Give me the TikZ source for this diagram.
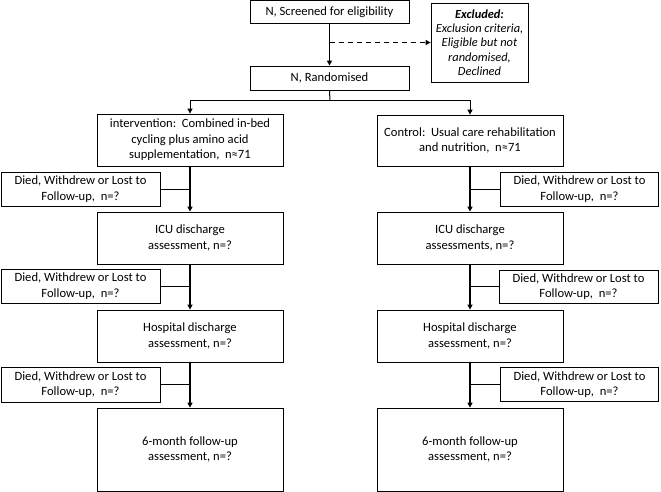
\documentclass[tikz,border=0pt]{standalone}
\usepackage{fontspec}
\setmainfont{Carlito}
\usetikzlibrary{arrows.meta}
\begin{document}
\begin{tikzpicture}[x=1pt,y=-1pt,
  box/.style={draw, line width=0.8pt, align=center, inner sep=1pt, font=\fontsize{12.6}{15.5}\selectfont},
  arr/.style={line width=1.3pt, -{Triangle[length=5pt,width=5pt]}},
  side/.style={line width=0.7pt}]
\useasboundingbox (0,0) rectangle (661,492);
\node[box, minimum width=159pt, minimum height=23pt] (scr) at (329.5,11.8) {N, Screened for eligibility};
\node[box, minimum width=97pt, minimum height=79pt, font=\fontsize{12.4}{14.2}\selectfont\itshape] (exc) at (479.5,42.5)
  {\textbf{Excluded:}\\Exclusion criteria,\\Eligible but not\\randomised,\\Declined};
\node[box, minimum width=159pt, minimum height=24pt] (ran) at (329.5,78) {N, Randomised};
\node[box, minimum width=186pt, minimum height=52pt] (int) at (190,140) {intervention:\ \ Combined in-bed\\cycling plus amino acid\\supplementation,\ \ n≈71};
\node[box, minimum width=186pt, minimum height=51pt] (con) at (470,140.5) {Control:\ \ Usual care rehabilitation\\and nutrition,\ \ n≈71};
\node[box, minimum width=159pt, minimum height=34pt] (dl1) at (80.5,189) {Died, Withdrew or Lost to\\Follow-up,\ \ n=?};
\node[box, minimum width=158pt, minimum height=34pt] (dr1) at (579.5,189) {Died, Withdrew or Lost to\\Follow-up,\ \ n=?};
\node[box, minimum width=186pt, minimum height=52pt] (icl) at (190,238) {ICU discharge\\assessment, n=?};
\node[box, minimum width=186pt, minimum height=52pt] (icr) at (470,238) {ICU discharge\\assessments, n=?};
\node[box, minimum width=159pt, minimum height=34pt] (dl2) at (80.5,286) {Died, Withdrew or Lost to\\Follow-up,\ \ n=?};
\node[box, minimum width=159pt, minimum height=33pt] (dr2) at (578.5,286.5) {Died, Withdrew or Lost to\\Follow-up,\ \ n=?};
\node[box, minimum width=186pt, minimum height=52pt] (hol) at (190,336) {Hospital discharge\\assessment, n=?};
\node[box, minimum width=186pt, minimum height=52pt] (hor) at (470,336) {Hospital discharge\\assessment, n=?};
\node[box, minimum width=159pt, minimum height=35pt] (dl3) at (80.5,384.5) {Died, Withdrew or Lost to\\Follow-up,\ \ n=?};
\node[box, minimum width=158pt, minimum height=34pt] (dr3) at (579.5,384.5) {Died, Withdrew or Lost to\\Follow-up,\ \ n=?};
\node[box, minimum width=186pt, minimum height=83pt] (sxl) at (190,449.5) {6-month follow-up\\assessment, n=?};
\node[box, minimum width=186pt, minimum height=83pt] (sxr) at (470,449.5) {6-month follow-up\\assessment, n=?};
% connectors
\draw[arr] (scr.south) -- (ran.north);
\draw[line width=1.1pt, dashed, dash pattern=on 5pt off 4pt, -{Triangle[length=5pt,width=5pt]}] (scr.south |- exc.west) -- (exc.west);
\coordinate (sp) at (330,101);
\draw[line width=1pt] (ran.south) -- (sp);
\draw[line width=1pt, -{Triangle[length=5pt,width=5pt]}] (sp) -| (int.north);
\draw[line width=1pt, -{Triangle[length=5pt,width=5pt]}] (sp) -| (con.north);
\draw[arr] (int.south) -- (icl.north);
\draw[arr] (icl.south) -- (hol.north);
\draw[arr] (hol.south) -- (sxl.north);
\draw[arr] (con.south) -- (icr.north);
\draw[arr] (icr.south) -- (hor.north);
\draw[arr] (hor.south) -- (sxr.north);
\draw[side] (dl1.east) -- (int.south |- dl1.east);
\draw[side] (dl2.east) -- (icl.south |- dl2.east);
\draw[side] (dl3.east) -- (hol.south |- dl3.east);
\draw[side] (dr1.west) -- (con.south |- dr1.west);
\draw[side] (dr2.west) -- (icr.south |- dr2.west);
\draw[side] (dr3.west) -- (hor.south |- dr3.west);
\end{tikzpicture}
\end{document}
